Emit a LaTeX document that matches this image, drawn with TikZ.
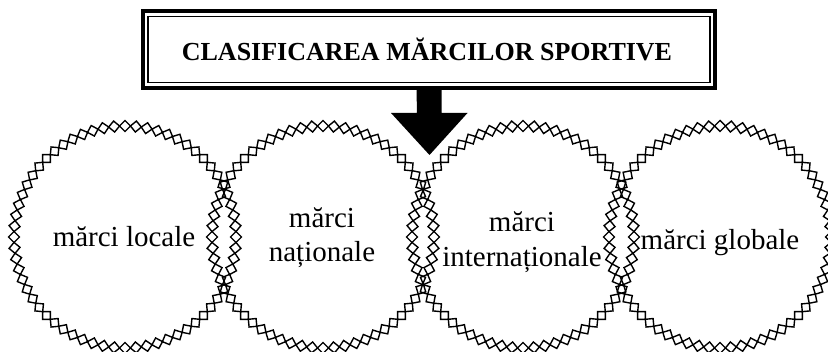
\documentclass[tikz,border=0pt]{standalone}
\usepackage{fontspec}
\setmainfont{Liberation Serif}
\begin{document}
\begin{tikzpicture}[x=1pt,y=-1pt,
  ring/.style={line width=1.4pt, line join=miter},
  lbl/.style={font=\fontsize{29}{34}\selectfont, inner sep=0pt, anchor=base},
  spot/.style={circle, minimum size=222pt, inner sep=0pt}]
\clip (0,0) rectangle (828,352);
\fill[white] (0,0) rectangle (828,352);
% circles (named nodes) with diamond-chain rims
\foreach \n/\cx in {c1/125, c2/323, c3/523, c4/720}{
  \node[spot] (\n) at (\cx,237) {};
  \foreach \k in {0,...,63}{
    \draw[ring, shift={(\n.center)}, rotate=\k*5.625]
      (105.5,0) -- (111,5.5) -- (116.5,0) -- (111,-5.5) -- cycle;
  }
}
% labels
\node[lbl] (t1) at (124,247) {mărci locale};
\node[lbl] (t2a) at (322,228) {mărci};
\node[lbl] (t2b) at (322,262) {naționale};
\node[lbl] (t3a) at (522,232) {mărci};
\node[lbl] (t3b) at (522,267) {internaționale};
\node[lbl] (t4) at (720,250) {mărci globale};
% title box
\node[draw, line width=4pt, minimum width=572pt, minimum height=77pt, inner sep=0pt] (box) at (429,49.5) {};
\draw[line width=1.4pt] (148,16.5) rectangle (710,82.5);
\node[font=\bfseries\fontsize{26}{30}\selectfont, inner sep=0pt, anchor=base] (title) at (427,61) {CLASIFICAREA MĂRCILOR SPORTIVE};
% block arrow
\coordinate (tip) at (429.5,155);
\fill[black] ([xshift=-12.5pt]box.south) -- ([xshift=12.5pt]box.south) -- ++(0,23) -- ++(26,0) -- (tip) -- ++(-38.5,-42) -- ++(26,0) -- cycle;
\end{tikzpicture}
\end{document}
